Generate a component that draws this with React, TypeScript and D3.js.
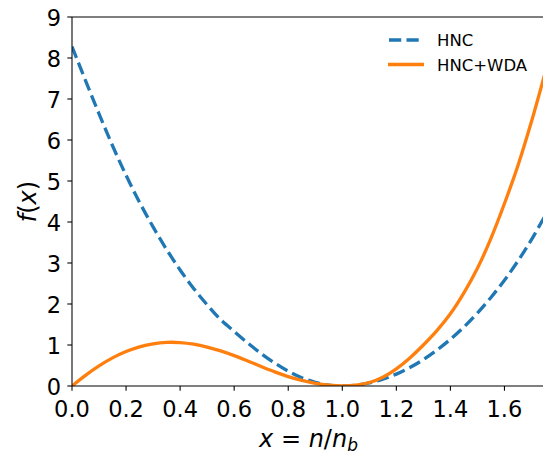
import React from "react";
import * as d3 from "d3";

const xs = [0, 0.05, 0.1, 0.15, 0.2, 0.25, 0.3, 0.35, 0.4, 0.45, 0.5, 0.55, 0.6, 0.65, 0.7, 0.75, 0.8, 0.85, 0.9, 0.95, 1.0, 1.05, 1.1, 1.15, 1.2, 1.25, 1.3, 1.35, 1.4, 1.45, 1.5, 1.55, 1.6, 1.65, 1.7, 1.75];
const hnc = [8.28, 7.45, 6.64, 5.86, 5.14, 4.48, 3.88, 3.33, 2.83, 2.38, 1.98, 1.62, 1.33, 1.05, 0.79, 0.56, 0.36, 0.2, 0.09, 0.02, 0.0, 0.02, 0.075, 0.165, 0.29, 0.45, 0.645, 0.875, 1.14, 1.44, 1.78, 2.16, 2.58, 3.05, 3.57, 4.15];
const hncWda = [0, 0.26, 0.49, 0.685, 0.84, 0.955, 1.03, 1.065, 1.06, 1.02, 0.95, 0.855, 0.74, 0.61, 0.475, 0.345, 0.23, 0.135, 0.065, 0.02, 0, 0.02, 0.085, 0.215, 0.42, 0.685, 1.0, 1.35, 1.76, 2.27, 2.87, 3.6, 4.45, 5.38, 6.45, 7.63];
const xTicks = [0, 0.2, 0.4, 0.6, 0.8, 1.0, 1.2, 1.4, 1.6];
const yTicks = [0, 1, 2, 3, 4, 5, 6, 7, 8, 9];
const seriesNames = ["HNC", "HNC+WDA"];
const colors = ["#1f77b4", "#ff7f0e"];

const L = 72, R = 545, T = 17, B = 386;
const FONT = "DejaVu Sans";
const TICK_FS = 22.5;
const LABEL_FS = 24;

export default function App() {
  const x = d3.scaleLinear().domain([0, 1.75]).range([L, R]);
  const y = d3.scaleLinear().domain([0, 9]).range([B, T]);
  const line = d3
    .line<number>()
    .x((_, i) => x(xs[i]))
    .y((d) => y(d))
    .curve(d3.curveCatmullRom.alpha(0.5));

  return (
    <svg
      width={543}
      height={454}
      style={{ position: "fixed", left: 0, top: 0, background: "#fff" }}
      fontFamily={FONT}
    >
      <defs>
        <clipPath id="plotclip">
          <rect x={L} y={T - 2} width={R - L + 5} height={B - T + 2} />
        </clipPath>
      </defs>
      <g clipPath="url(#plotclip)">
        <path d={line(hnc) || ""} fill="none" stroke={colors[0]} strokeWidth={3.3} strokeDasharray="12.2 5.3" />
        <path d={line(hncWda) || ""} fill="none" stroke={colors[1]} strokeWidth={3.3} />
      </g>
      {/* spines */}
      <line x1={L} x2={L} y1={T} y2={B} stroke="#000" strokeWidth={1.07} />
      <line x1={L} x2={R} y1={B} y2={B} stroke="#000" strokeWidth={1.07} />
      <line x1={L} x2={R} y1={T} y2={T} stroke="#000" strokeWidth={1.07} />
      <line x1={R} x2={R} y1={T} y2={B} stroke="#000" strokeWidth={1.07} />
      {/* x ticks */}
      {xTicks.map((t) => (
        <g key={"x" + t}>
          <line x1={x(t)} x2={x(t)} y1={B} y2={B + 4.7} stroke="#000" strokeWidth={1.07} />
          <text x={x(t)} y={416.7} textAnchor="middle" fontSize={TICK_FS} fill="#000">
            {t.toFixed(1)}
          </text>
        </g>
      ))}
      {/* y ticks */}
      {yTicks.map((t) => (
        <g key={"y" + t}>
          <line x1={L - 4.7} x2={L} y1={y(t)} y2={y(t)} stroke="#000" strokeWidth={1.07} />
          <text x={61} y={y(t) + 8.9} textAnchor="end" fontSize={TICK_FS} fill="#000">
            {t}
          </text>
        </g>
      ))}
      {/* x label */}
      <text x={308.5} y={447.3} textAnchor="middle" fontSize={LABEL_FS} fill="#000">
        <tspan fontStyle="italic">x</tspan>
        <tspan> = </tspan>
        <tspan fontStyle="italic">n</tspan>
        <tspan>/</tspan>
        <tspan fontStyle="italic">n</tspan>
        <tspan fontStyle="italic" fontSize={17} dy={3.8}>b</tspan>
      </text>
      {/* y label */}
      <text
        transform={`translate(36,${(T + B) / 2}) rotate(-90)`}
        textAnchor="middle"
        fontSize={LABEL_FS}
        fill="#000"
      >
        <tspan fontStyle="italic">f</tspan>
        <tspan>(</tspan>
        <tspan fontStyle="italic">x</tspan>
        <tspan>)</tspan>
      </text>
      {/* legend */}
      <line x1={389} x2={424} y1={40} y2={40} stroke={colors[0]} strokeWidth={3.3} strokeDasharray="12.2 5.3" />
      <text x={437} y={45.8} fontSize={16.5} fill="#000">{seriesNames[0]}</text>
      <line x1={388} x2={424} y1={64.5} y2={64.5} stroke={colors[1]} strokeWidth={3.3} />
      <text x={437} y={70.7} fontSize={16.5} fill="#000">{seriesNames[1]}</text>
    </svg>
  );
}
